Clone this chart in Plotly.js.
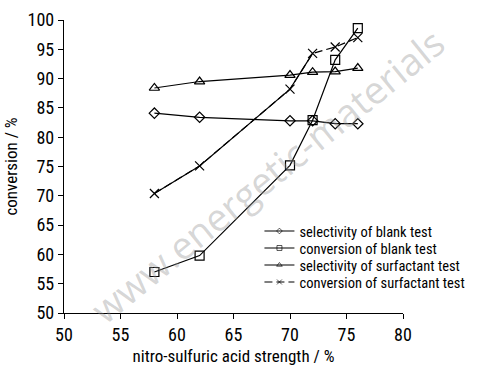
<!DOCTYPE html>
<html>
<head>
<meta charset="utf-8">
<script src="https://cdn.plot.ly/plotly-3.0.1.min.js"></script>
<style>html,body{margin:0;padding:0;background:#fff;}#chart{width:497px;height:367px;}</style>
</head>
<body>
<div id="chart"></div>
<script>
var acidStrength = [58, 62, 70, 72, 74, 76];
var selectivityBlank = [84.1, 83.4, 82.8, 82.8, 82.3, 82.3];
var conversionBlank = [57.0, 59.8, 75.2, 82.9, 93.2, 98.6];
var selectivitySurfactant = [88.4, 89.5, 90.6, 91.1, 91.2, 91.8];
var conversionSurfactant = [70.4, 75.1, 88.2, 94.3, 95.4, 97.0];
var seriesNames = ['selectivity of blank test', 'conversion of blank test', 'selectivity of surfactant test', 'conversion of surfactant test'];
var xTicks = [50, 55, 60, 65, 70, 75, 80];
var yTicks = [50, 55, 60, 65, 70, 75, 80, 85, 90, 95, 100];

var FONT = '"Roboto Condensed", "Liberation Sans", Arial, sans-serif';
var lineStyle = {color: '#000', width: 1.2};

// solid part of surfactant conversion (first four points), dashed afterwards
var solidPartX = acidStrength.slice(0, 4);
var solidPartY = conversionSurfactant.slice(0, 4);

var traces = [
  {x: acidStrength, y: selectivityBlank, name: seriesNames[0], mode: 'lines+markers',
   line: lineStyle, marker: {symbol: 'diamond-open', size: 8, color: '#000', line: {width: 1.2}}},
  {x: acidStrength, y: conversionBlank, name: seriesNames[1], mode: 'lines+markers',
   line: lineStyle, marker: {symbol: 'square-open', size: 9, color: '#000', line: {width: 1.2}}},
  {x: acidStrength, y: selectivitySurfactant, name: seriesNames[2], mode: 'lines+markers',
   line: lineStyle, marker: {symbol: 'triangle-up-open', size: 9, color: '#000', line: {width: 1.2}}},
  {x: solidPartX, y: solidPartY, showlegend: false, mode: 'lines', hoverinfo: 'skip',
   line: lineStyle},
  {x: acidStrength, y: conversionSurfactant, name: seriesNames[3], mode: 'lines+markers',
   line: {color: '#000', width: 1.2, dash: '8px,4px'},
   marker: {symbol: 'x-thin-open', size: 9, color: '#000', line: {width: 1.2, color: '#000'}}}
];

var LEGEND_ROW = 17;

var layout = {
  width: 497, height: 367,
  margin: {l: 64, r: 94, t: 20, b: 54, autoexpand: false},
  paper_bgcolor: '#fff', plot_bgcolor: '#fff',
  font: {family: FONT, size: 16, color: '#000'},
  showlegend: true,
  legend: {xref: 'container', yref: 'container', x: 0.522, y: 0.414, xanchor: 'left', yanchor: 'top',
           bgcolor: 'rgba(0,0,0,0)', font: {family: FONT, size: 14.5, color: '#000'},
           tracegroupgap: 0, itemwidth: 30},
  xaxis: {range: [50, 80], tickvals: xTicks, ticktext: xTicks.map(String), showgrid: false, zeroline: false,
          showline: true, linecolor: '#000', linewidth: 1.2, ticks: 'outside', ticklen: 5, tickcolor: '#000',
          tickfont: {family: FONT, size: 18}, mirror: false,
          title: {text: 'nitro-sulfuric acid strength / %', font: {family: FONT, size: 17}, standoff: 6}},
  yaxis: {range: [50, 100], tickvals: yTicks, ticktext: yTicks.map(String), showgrid: false, zeroline: false,
          showline: true, linecolor: '#000', linewidth: 1.2, ticks: 'outside', ticklen: 5, tickcolor: '#000',
          tickfont: {family: FONT, size: 18},
          title: {text: 'conversion / %', font: {family: FONT, size: 17}, standoff: 5}},
  annotations: [
    {text: 'www.energetic-materials', xref: 'paper', yref: 'paper', x: 0.6, y: 0.47, showarrow: false,
     textangle: -39, font: {family: '"Open Sans", "Liberation Sans", sans-serif', size: 38, color: 'rgba(150,150,150,0.4)'}}
  ]
};

Plotly.newPlot('chart', traces, layout, {displayModeBar: false, staticPlot: true}).then(function () {
  // tighten legend rows and use small legend symbols, as in the reference
  var rows = document.querySelectorAll('.legend .traces');
  var y0 = null;
  rows.forEach(function (el, i) {
    var m = /translate\(([-\d.e]+)[ ,]+([-\d.e]+)\)/.exec(el.getAttribute('transform') || '');
    if (!m) return;
    if (y0 === null) y0 = parseFloat(m[2]);
    el.setAttribute('transform', 'translate(' + m[1] + ',' + (y0 + i * LEGEND_ROW) + ')');
  });
  document.querySelectorAll('.legend .legendpoints path').forEach(function (p) {
    p.setAttribute('transform', (p.getAttribute('transform') || '') + ' scale(0.55)');
  });
});
</script>
</body>
</html>
